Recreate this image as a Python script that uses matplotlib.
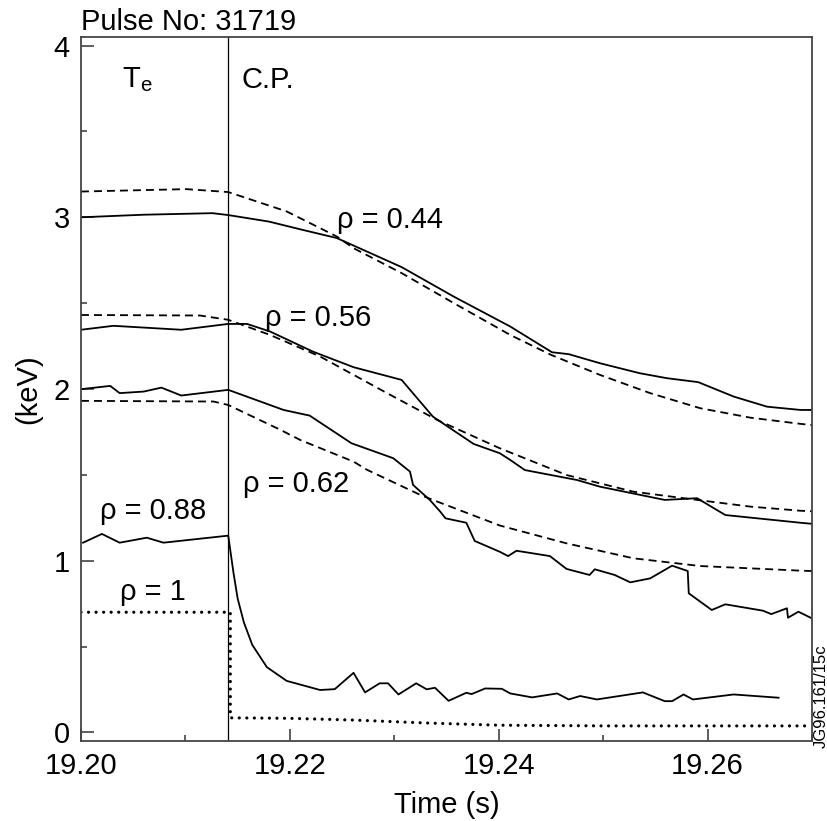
import matplotlib
matplotlib.use("Agg")
from matplotlib import pyplot as plt
from matplotlib.ticker import MultipleLocator

plt.rcParams["font.family"] = ["Liberation Sans", "DejaVu Sans"]
plt.rcParams["mathtext.fontset"] = "custom"
plt.rcParams["mathtext.rm"] = "Liberation Sans"

# switch-off time (vertical line)
t_cp = 19.2141

# rho = 0.44
t_044 = [19.2000, 19.2060, 19.2126, 19.2141, 19.2180, 19.2210, 19.2245, 19.2307,
         19.2357, 19.2411, 19.2451, 19.2467, 19.2497, 19.2535, 19.2561, 19.2591,
         19.2625, 19.2657, 19.2689, 19.2700]
te_044 = [3.000, 3.015, 3.024, 3.013, 2.975, 2.930, 2.879, 2.710,
          2.538, 2.364, 2.214, 2.203, 2.150, 2.092, 2.063, 2.040,
          1.956, 1.897, 1.878, 1.878]
t_044_sim = [19.2000, 19.2101, 19.2141, 19.2197, 19.2245, 19.2261, 19.2307, 19.2357,
             19.2411, 19.2450, 19.2497, 19.2545, 19.2593, 19.2641, 19.2689, 19.2700]
te_044_sim = [3.150, 3.164, 3.147, 3.034, 2.888, 2.820, 2.675, 2.500,
              2.315, 2.199, 2.082, 1.976, 1.888, 1.833, 1.797, 1.790]

# rho = 0.56
t_056 = [19.2000, 19.2031, 19.2096, 19.2141, 19.2159, 19.2181, 19.2222, 19.2261,
         19.2307, 19.2337, 19.2376, 19.2401, 19.2411, 19.2425, 19.2475, 19.2497,
         19.2559, 19.2590, 19.2617, 19.2689, 19.2700]
te_056 = [2.345, 2.368, 2.345, 2.379, 2.379, 2.335, 2.218, 2.127,
          2.053, 1.839, 1.680, 1.626, 1.587, 1.528, 1.470, 1.431,
          1.354, 1.364, 1.266, 1.221, 1.215]
t_056_sim = [19.2000, 19.2114, 19.2141, 19.2181, 19.2229, 19.2293, 19.2341, 19.2401,
             19.2465, 19.2529, 19.2590, 19.2641, 19.2689, 19.2700]
te_056_sim = [2.431, 2.428, 2.403, 2.315, 2.189, 1.976, 1.820, 1.655,
              1.499, 1.402, 1.354, 1.315, 1.291, 1.288]

# rho = 0.62
t_062 = [19.2000, 19.2028, 19.2037, 19.2060, 19.2077, 19.2096, 19.2141, 19.2194,
         19.2219, 19.2259, 19.2299, 19.2315, 19.2318, 19.2334, 19.2344, 19.2349,
         19.2369, 19.2377, 19.2401, 19.2409, 19.2417, 19.2449, 19.2465, 19.2487,
         19.2492, 19.2511, 19.2526, 19.2545, 19.2566, 19.2581, 19.2582, 19.2604,
         19.2617, 19.2653, 19.2661, 19.2676, 19.2677, 19.2687, 19.2700]
te_062 = [1.999, 2.018, 1.976, 1.985, 2.008, 1.962, 1.995, 1.878,
          1.845, 1.684, 1.597, 1.519, 1.441, 1.354, 1.286, 1.247,
          1.221, 1.115, 1.052, 1.027, 1.058, 1.027, 0.952, 0.917,
          0.950, 0.917, 0.874, 0.897, 0.971, 0.940, 0.810, 0.713,
          0.746, 0.709, 0.689, 0.723, 0.668, 0.703, 0.664]
t_062_sim = [19.2000, 19.2127, 19.2141, 19.2191, 19.2210, 19.2261, 19.2274, 19.2325,
             19.2337, 19.2401, 19.2465, 19.2529, 19.2593, 19.2689, 19.2700]
te_062_sim = [1.931, 1.927, 1.907, 1.762, 1.703, 1.577, 1.529, 1.383,
              1.354, 1.205, 1.101, 1.014, 0.969, 0.942, 0.940]

# rho = 0.88
t_088 = [19.2002, 19.2020, 19.2037, 19.2063, 19.2079, 19.2141, 19.2146, 19.2150,
         19.2156, 19.2164, 19.2178, 19.2197, 19.2229, 19.2243, 19.2261, 19.2272,
         19.2286, 19.2294, 19.2304, 19.2321, 19.2331, 19.2339, 19.2352, 19.2369,
         19.2374, 19.2387, 19.2403, 19.2411, 19.2432, 19.2456, 19.2467, 19.2478,
         19.2494, 19.2538, 19.2559, 19.2566, 19.2577, 19.2586, 19.2625, 19.2668]
te_088 = [1.105, 1.156, 1.105, 1.134, 1.105, 1.146, 0.930, 0.780,
          0.640, 0.510, 0.380, 0.300, 0.247, 0.252, 0.347, 0.233,
          0.286, 0.286, 0.221, 0.286, 0.251, 0.260, 0.184, 0.231,
          0.223, 0.256, 0.254, 0.227, 0.204, 0.227, 0.192, 0.212,
          0.192, 0.233, 0.182, 0.182, 0.221, 0.192, 0.221, 0.202]

# rho = 1
t_100 = [19.2000, 19.2143, 19.2143, 19.2200, 19.2261, 19.2330, 19.2400, 19.2500, 19.2700]
te_100 = [0.700, 0.700, 0.085, 0.082, 0.072, 0.055, 0.042, 0.038, 0.038]

fig = plt.figure(figsize=(8.28, 8.21), dpi=100)
ax = fig.add_axes([81 / 828, 1 - 741 / 821, 731 / 828, 704 / 821])

lw = 1.3
dash = (0, (4.4, 2.8))
ax.plot(t_044, te_044, color="black", lw=lw)
ax.plot(t_044_sim, te_044_sim, color="black", lw=lw, linestyle=dash)
ax.plot(t_056, te_056, color="black", lw=lw)
ax.plot(t_056_sim, te_056_sim, color="black", lw=lw, linestyle=dash)
ax.plot(t_062, te_062, color="black", lw=lw)
ax.plot(t_062_sim, te_062_sim, color="black", lw=lw, linestyle=dash)
ax.plot(t_088, te_088, color="black", lw=lw)
ax.plot(t_100, te_100, color="black", lw=2.3, linestyle=(0, (0.01, 2.35)),
        dash_capstyle="round")
ax.axvline(t_cp, color="black", lw=0.9)

ax.set_xlim(19.20, 19.27)
ax.set_ylim(-0.05, 4.05)
ax.xaxis.set_major_locator(MultipleLocator(0.02))
ax.xaxis.set_minor_locator(MultipleLocator(0.01))
ax.yaxis.set_major_locator(MultipleLocator(1))
ax.yaxis.set_minor_locator(MultipleLocator(0.5))
ax.xaxis.set_major_formatter(lambda v, p: f"{v:.2f}")
ax.tick_params(which="both", direction="in", labelsize=21, color="#333333",
               top=False, right=False)
ax.tick_params(which="major", length=9, width=1.1, pad=8)
ax.tick_params(which="minor", length=4.5, width=1.1)
for s in ax.spines.values():
    s.set_color("#444444")
    s.set_linewidth(1.3)

ax.set_xlabel("Time (s)", fontsize=21, labelpad=8)
ax.set_ylabel("(keV)", fontsize=21, labelpad=8)
ax.set_title("Pulse No: 31719", loc="left", fontsize=21, pad=5)

fs = 21
ax.text(19.2039, 3.755, r"T$_\mathregular{e}$", fontsize=fs, va="baseline")
ax.text(19.2154, 3.755, "C.P.", fontsize=fs, va="baseline")
ax.text(19.2245, 2.937, "ρ = 0.44", fontsize=fs, va="baseline")
ax.text(19.2176, 2.364, "ρ = 0.56", fontsize=fs, va="baseline")
ax.text(19.2155, 1.402, "ρ = 0.62", fontsize=fs, va="baseline")
ax.text(19.2018, 1.243, "ρ = 0.88", fontsize=fs, va="baseline")
ax.text(19.2037, 0.771, "ρ = 1", fontsize=fs, va="baseline")

fig.text(1.001, 1 - 748 / 821, "JG96.161/15c", rotation=90, fontsize=12,
         ha="right", va="bottom")

fig.savefig("out.png", dpi=100)
